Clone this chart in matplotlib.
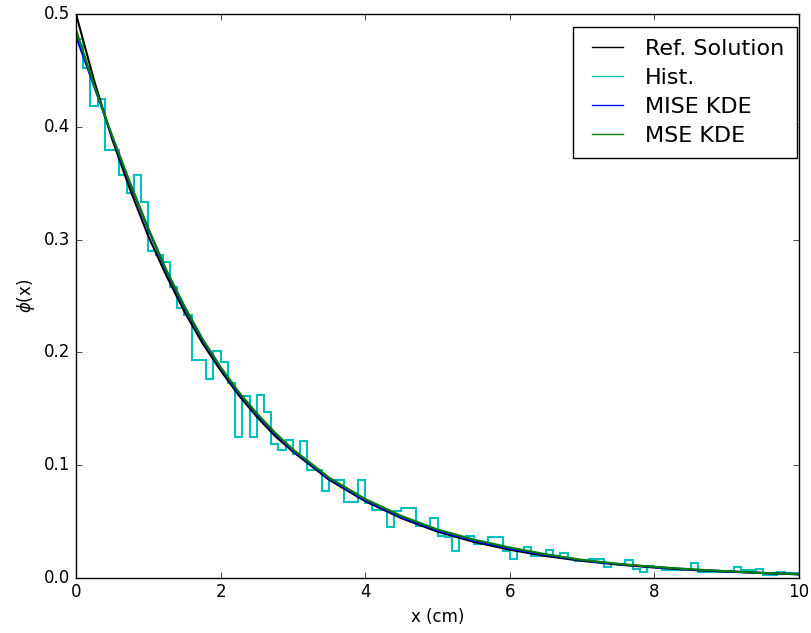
import numpy as np
import matplotlib
matplotlib.use('Agg')
import matplotlib.pyplot as plt
from matplotlib.lines import Line2D

# histogram of the tallies, 100 bins of 0.1 cm from 0 to 10
hist_edges = np.linspace(0, 10, 101)
hist_vals = [0.478, 0.452, 0.418, 0.425, 0.379, 0.379, 0.357, 0.341, 0.357, 0.333,
             0.290, 0.286, 0.280, 0.258, 0.239, 0.233, 0.193, 0.193, 0.176, 0.201,
             0.191, 0.173, 0.125, 0.161, 0.125, 0.162, 0.147, 0.119, 0.113, 0.122,
             0.110, 0.121, 0.096, 0.096, 0.077, 0.087, 0.087, 0.067, 0.067, 0.087,
             0.066, 0.060, 0.060, 0.045, 0.059, 0.062, 0.062, 0.046, 0.046, 0.053,
             0.037, 0.036, 0.024, 0.036, 0.037, 0.030, 0.030, 0.036, 0.036, 0.024,
             0.017, 0.025, 0.027, 0.019, 0.019, 0.025, 0.019, 0.022, 0.017, 0.015,
             0.015, 0.017, 0.017, 0.010, 0.012, 0.012, 0.016, 0.0077, 0.005, 0.011,
             0.010, 0.007, 0.007, 0.007, 0.008, 0.013, 0.005, 0.005, 0.005, 0.005,
             0.006, 0.010, 0.007, 0.007, 0.0075, 0.003, 0.003, 0.005, 0.004, 0.004]

# curves
x_curve = [0, 0.25, 0.5, 0.75, 1.0, 1.25, 1.5, 1.75, 2.0, 2.25, 2.5, 2.75, 3.0,
           3.5, 4.0, 4.5, 5.0, 5.5, 6.0, 6.5, 7.0, 7.5, 8.0, 8.5, 9.0, 9.5, 10.0]
ref_sol = [0.500, 0.441, 0.389, 0.344, 0.303, 0.268, 0.236, 0.208, 0.184, 0.162,
           0.143, 0.126, 0.112, 0.087, 0.068, 0.053, 0.041, 0.032, 0.025, 0.0194,
           0.0151, 0.0118, 0.0092, 0.0071, 0.0056, 0.0043, 0.0034]
mise_kde = [0.480, 0.436, 0.391, 0.349, 0.309, 0.272, 0.240, 0.211, 0.186, 0.164,
            0.145, 0.128, 0.113, 0.088, 0.069, 0.054, 0.042, 0.033, 0.026, 0.0203,
            0.0157, 0.0122, 0.0096, 0.0075, 0.0058, 0.0044, 0.0031]
mse_kde = [0.486, 0.437, 0.392, 0.350, 0.310, 0.273, 0.241, 0.212, 0.187, 0.165,
           0.146, 0.129, 0.114, 0.089, 0.070, 0.055, 0.043, 0.034, 0.027, 0.021,
           0.016, 0.0125, 0.0098, 0.0077, 0.006, 0.0045, 0.0032]

plt.style.use('classic')
plt.rcParams['mathtext.fontset'] = 'dejavusans'

fig, ax = plt.subplots(figsize=(8.12, 6.33), dpi=100)
fig.subplots_adjust(left=0.0936, right=0.984, top=0.978, bottom=0.087)

lw = 1.5
ax.plot(x_curve, ref_sol, color='k', lw=lw)
ax.stairs(hist_vals, hist_edges, baseline=None, color='c', lw=lw)
ax.plot(x_curve, mise_kde, color='b', lw=lw)
ax.plot(x_curve, mse_kde, color='g', lw=lw)

ax.set_xlim(0, 10)
ax.set_ylim(0, 0.5)
ax.set_xlabel('x (cm)')
ax.set_ylabel(r'$\phi$(x)')

# legend: stairs handle drawn as a line like the others
handles = [Line2D([], [], color=c, lw=1) for c in ['k', 'c', 'b', 'g']]
ax.legend(handles, ['Ref. Solution', 'Hist.', 'MISE KDE', 'MSE KDE'],
          loc='upper right', bbox_to_anchor=(0.997, 0.977), borderaxespad=0,
          fontsize=16, labelspacing=0.4, handletextpad=0.7, borderpad=0.55)

plt.savefig('out.png')
